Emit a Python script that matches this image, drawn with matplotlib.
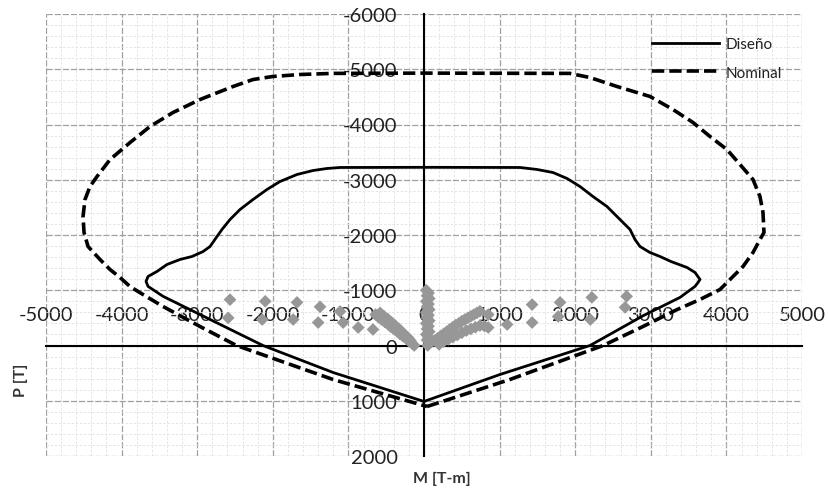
import matplotlib
matplotlib.use("Agg")
import matplotlib.pyplot as plt
from matplotlib.ticker import MultipleLocator, FixedLocator

plt.rcParams['font.family'] = ['Lato', 'DejaVu Sans']
plt.rcParams['axes.unicode_minus'] = False

# Design interaction curve (Diseño)
M_diseno = [0, 1005, 2196, 2900, 3386, 3585, 3624, 3651, 3585, 3479, 3267, 3122, 2989,
            2857, 2791, 2725, 2593, 2420, 2235, 2063, 1892, 1706, 1495, 1270, 0,
            -1111, -1283, -1468, -1680, -1905, -2077, -2262, -2434, -2566, -2672, -2738,
            -2830, -2923, -3069, -3227, -3400, -3532, -3650, -3677, -3650, -3452,
            -2130, -1200, 0]
P_diseno = [1013, 525, 0, -540, -870, -1070, -1140, -1195, -1321, -1412, -1520, -1611, -1683,
            -1792, -1918, -2100, -2280, -2516, -2697, -2878, -3023, -3131, -3186, -3222, -3225,
            -3222, -3204, -3167, -3095, -2968, -2824, -2642, -2461, -2280, -2100, -1973,
            -1792, -1700, -1611, -1557, -1466, -1340, -1250, -1160, -1070, -890,
            0, 490, 1013]

# Nominal interaction curve
M_nominal = [40, 1137, 2370, 2897, 3347, 3651, 3915, 4048, 4220, 4352, 4444, 4497, 4484,
             4444, 4352, 4180, 4007, 3783, 3558, 3294, 2990, 2553, 2196, 1930, 0,
             -1204, -1640, -2000, -2262, -2526, -2963, -3320, -3624, -3888, -4153, -4325,
             -4418, -4484, -4510, -4497, -4444, -4286, -4153, -4021, -3889, -3717, -3452,
             -2963, -2480, -1204, 40]
P_nominal = [1104, 615, 0, -344, -650, -833, -1013, -1195, -1430, -1683, -1918, -2045, -2407,
             -2697, -3004, -3276, -3547, -3783, -4036, -4271, -4507, -4688, -4850, -4925, -4930,
             -4925, -4905, -4869, -4814, -4688, -4452, -4217, -3964, -3674, -3366, -3059,
             -2878, -2642, -2335, -2045, -1792, -1557, -1375, -1231, -1068, -923, -706,
             -344, 0, 615, 1104]

# Load combinations (scatter)
M_loads = [-2566, -2590, -2100, -2140, -1680, -1730, -1375, -1400, -1110, -1070, -870, -675,
           -640, -600, -560, -520, -480, -440, -400, -360, -320, -280, -240, -200, -160, -130,
           -580, -530, -480, -430, -380, -330, -290, -250, -210, -180,
           30, 60, 40, 70, 30, 60, 40, 70, 30, 60, 40, 70, 30, 60, 40, 70, 30, 60, 40, 70, 50,
           140, 180, 220, 260, 300, 340, 380, 420, 460, 500, 540, 580, 620, 660, 700, 740,
           200, 260, 320, 380, 440, 500, 560, 620, 680, 740, 800,
           850, 850, 1100, 1430, 1430, 1800, 1775, 2220, 2200, 2680, 2660]
P_loads = [-830, -500, -800, -470, -780, -470, -700, -415, -615, -415, -325, -290,
           -560, -510, -470, -430, -390, -340, -300, -260, -210, -170, -130, -80, -40, 0,
           -590, -530, -480, -420, -360, -300, -240, -190, -140, -90,
           -1000, -950, -900, -850, -800, -750, -700, -650, -600, -550, -500, -450, -400, -350,
           -300, -250, -200, -150, -100, -50, 0,
           -90, -130, -170, -210, -250, -290, -330, -370, -400, -440, -470, -500, -530, -560, -590, -620,
           -20, -70, -110, -150, -190, -230, -270, -300, -330, -360, -350,
           -325, -560, -380, -740, -415, -780, -525, -870, -470, -890, -690]

x_ticks = [-5000, -4000, -3000, -2000, -1000, 0, 1000, 2000, 3000, 4000, 5000]
y_ticks = [-6000, -5000, -4000, -3000, -2000, -1000, 0, 1000, 2000]

fig = plt.figure(figsize=(8.29, 4.89), dpi=100)
ax = fig.add_axes([46/829, 1-457/489, 756/829, 442/489])

ax.set_xlim(-5000, 5000)
ax.set_ylim(2000, -6000)

ax.xaxis.set_major_locator(FixedLocator(x_ticks))
ax.yaxis.set_major_locator(FixedLocator(y_ticks))
ax.xaxis.set_minor_locator(MultipleLocator(200))
ax.yaxis.set_minor_locator(MultipleLocator(200))

ax.grid(True, which='major', color='#a0a0a0', linestyle=(0, (5, 1.5)), linewidth=0.9)
ax.grid(True, which='minor', color='#e2e2e2', linestyle=(0, (3, 2)), linewidth=0.6)
ax.set_axisbelow(True)

ax.scatter(M_loads, P_loads, marker='D', s=42, color='#979797', edgecolors='none', zorder=3)
ax.plot(M_diseno, P_diseno, color='black', linewidth=2.0, label='Diseño', zorder=4,
        solid_joinstyle='round')
ax.plot(M_nominal, P_nominal, color='black', linewidth=2.6, linestyle=(0, (3.4, 1.4)),
        label='Nominal', zorder=4)

# axes crossing at origin
ax.spines['top'].set_position(('data', 0))
ax.spines['left'].set_position(('data', 0))
ax.spines['bottom'].set_visible(False)
ax.spines['right'].set_visible(False)
for s in ('top', 'left'):
    ax.spines[s].set_color('black')
    ax.spines[s].set_linewidth(1.5)
    ax.spines[s].set_zorder(2.5)

ax.xaxis.set_ticks_position('top')
ax.xaxis.set_label_position('bottom')
ax.tick_params(axis='x', which='both', length=0, pad=16, labelsize=14.5, labelcolor='#222222')
ax.tick_params(axis='y', which='both', length=0, pad=19, labelsize=14.5, labelcolor='#222222')
ax.set_xticklabels([str(v) for v in x_ticks])
ax.set_yticklabels([str(v) for v in y_ticks])

ax.set_xlabel('M [T-m]', fontsize=11.5, fontweight='bold', color='#333333')
ax.xaxis.set_label_coords((442-46)/756, -(472-457)/442)
ax.set_ylabel('P [T]', fontsize=11.5, fontweight='bold', color='#333333')
ax.yaxis.set_label_coords((28-46)/756, 1-(380-15)/442)

leg = ax.legend(loc='upper left', bbox_to_anchor=((652-46)/756, 1-(38-15)/442),
                frameon=False, fontsize=11, handlelength=4.4, handletextpad=0.45,
                labelspacing=0.95, borderpad=0, borderaxespad=0)
for t in leg.get_texts():
    t.set_color('#222222')

fig.savefig('out.png', dpi=100)
